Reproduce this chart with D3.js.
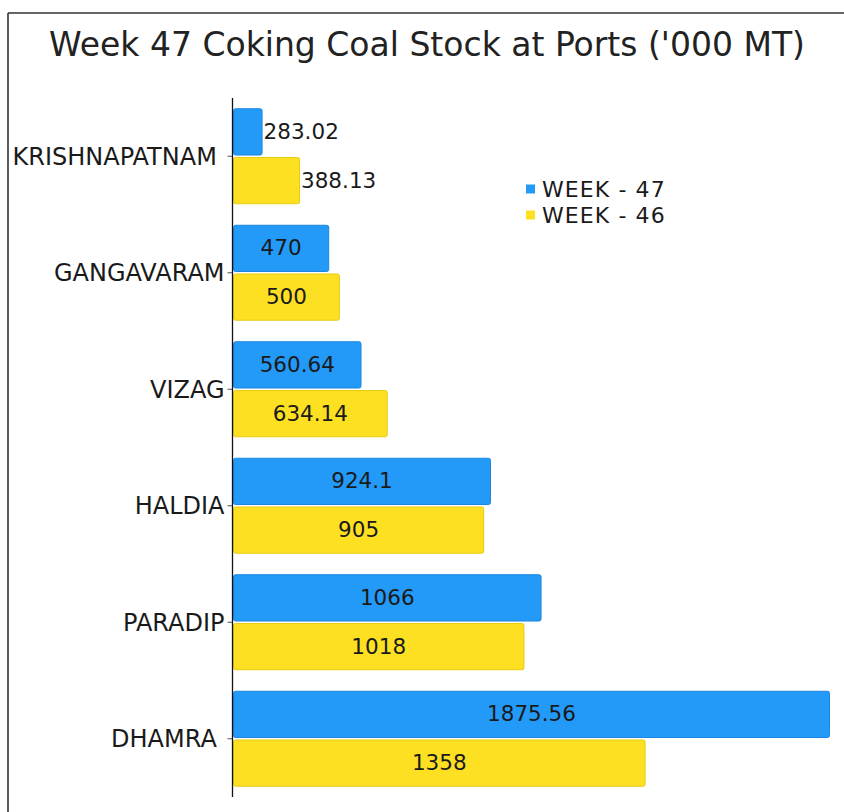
<!DOCTYPE html>
<html><head><meta charset="utf-8">
<script src="https://cdn.jsdelivr.net/npm/d3@7"></script>
<style>
html,body{margin:0;padding:0;background:#fff;}
text{font-family:"DejaVu Sans",Verdana,sans-serif;white-space:pre;}
</style></head>
<body><svg id="c" width="844" height="812"></svg>
<script>
const title = "Week 47 Coking Coal Stock at Ports ('000 MT)";
const categories = ["KRISHNAPATNAM ", "GANGAVARAM", "VIZAG", "HALDIA", "PARADIP", "DHAMRA "];
const seriesNames = ["WEEK - 47", "WEEK - 46"];
const week47 = [283.02, 470, 560.64, 924.1, 1066, 1875.56];
const week46 = [388.13, 500, 634.14, 905, 1018, 1358];
const valueLabels47 = ["283.02", "470", "560.64", "924.1", "1066", "1875.56"];
const valueLabels46 = ["388.13", "500", "634.14", "905", "1018", "1358"];
const xDomain = [200, 1875.56];
const colors = ["#2399F8", "#FDE022"];
const strokes = ["#1B86E0", "#E8CB10"];

const svg = d3.select("#c");
const W = 844, H = 812;

// frame
svg.append("line").attr("x1",8).attr("x2",W).attr("y1",13).attr("y2",13).attr("stroke","#333").attr("stroke-width",1.6);
svg.append("line").attr("x1",8).attr("x2",8).attr("y1",13).attr("y2",H).attr("stroke","#333").attr("stroke-width",1.6);

svg.append("text").attr("x",427).attr("y",56).attr("text-anchor","middle")
  .attr("font-size",33).attr("fill","#222").text(title);

const margin = {left:233, right:14, top:98, bottom:15};
const x = d3.scaleLinear().domain(xDomain).range([margin.left, W - margin.right]);
const y = d3.scaleBand().domain(categories).range([margin.top, H - margin.bottom]).paddingInner(0.176).paddingOuter(0.088);
const ys = d3.scaleBand().domain(seriesNames).range([0, y.bandwidth()]).paddingInner(0.03);

const rows = categories.map((c,i)=>({cat:c, vals:[
  {s:seriesNames[0], v:week47[i], lab:valueLabels47[i], k:0},
  {s:seriesNames[1], v:week46[i], lab:valueLabels46[i], k:1}]}));

const grp = svg.append("g").selectAll("g.row").data(rows).join("g").attr("class","row")
  .attr("transform",d=>`translate(0,${y(d.cat)})`);

grp.selectAll("rect").data(d=>d.vals).join("rect")
  .attr("x", x(xDomain[0]) + 0.5)
  .attr("y", d=>ys(d.s)+0.5)
  .attr("width", d=>x(d.v)-x(xDomain[0]) - 1)
  .attr("height", ys.bandwidth()-1)
  .attr("rx",2)
  .attr("fill", d=>colors[d.k])
  .attr("stroke", d=>strokes[d.k]).attr("stroke-width",1);

grp.selectAll("text.val").data(d=>d.vals).join("text").attr("class","val")
  .attr("font-size",21.5).attr("fill","#1a1a1a")
  .attr("y", d=>ys(d.s)+ys.bandwidth()/2)
  .attr("dy","0.33em")
  .text(d=>d.lab)
  .each(function(d){
    const tw = this.getComputedTextLength();
    const bw = x(d.v)-x(xDomain[0]);
    const el = d3.select(this);
    if (tw + 10 < bw) {
      el.attr("text-anchor","middle").attr("x", x(xDomain[0]) + bw/2);
    } else {
      el.attr("text-anchor","start").attr("x", x(d.v) + 1);
    }
  });

// y axis
const yAxis = d3.axisLeft(y).tickSize(5).tickPadding(3);
const ax = svg.append("g").attr("transform",`translate(${margin.left-0.5},0)`).call(yAxis);
ax.select(".domain").remove();
svg.append("line").attr("x1",margin.left-0.5).attr("x2",margin.left-0.5)
  .attr("y1",margin.top).attr("y2",H-margin.bottom).attr("stroke","#111").attr("stroke-width",1.3);
ax.selectAll(".tick line").attr("stroke","#555");
ax.selectAll(".tick text").attr("font-size",24).attr("fill","#1a1a1a")
  .attr("font-family","DejaVu Sans").attr("dy","0.36em");

// legend
const leg = svg.append("g").attr("transform","translate(526,0)");
const legY = d3.scalePoint().domain(seriesNames).range([189, 215]);
seriesNames.forEach((s,i)=>{
  leg.append("rect").attr("x",0).attr("y",legY(s)-4.5).attr("width",9).attr("height",9).attr("fill",colors[i]);
  leg.append("text").attr("x",16).attr("y",legY(s)).attr("dy","0.36em").attr("font-size",22)
    .attr("letter-spacing",1.1).attr("fill","#1a1a1a").text(s);
});
</script></body></html>
